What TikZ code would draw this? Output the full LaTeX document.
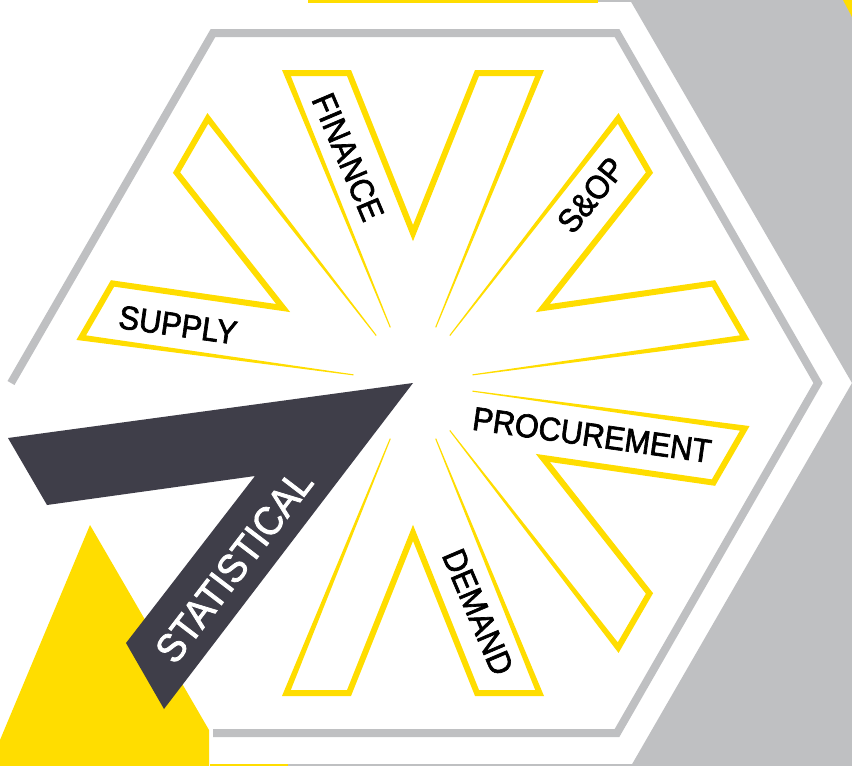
\documentclass[tikz,border=0pt]{standalone}
\usepackage{fontspec}
\newfontfamily\armfont[FakeStretch=0.93, FakeBold=2]{Liberation Sans}
\definecolor{hexgray}{HTML}{BFC0C2}
\definecolor{sunyellow}{HTML}{FFDD00}
\definecolor{slate}{HTML}{3F3E49}

\begin{document}
\begin{tikzpicture}[x=1pt,y=-1pt,
  armtext/.style={font=\armfont\fontsize{33}{33}\selectfont, text=black, inner sep=0pt},
  bandtext/.style={font=\armfont\fontsize{40}{40}\selectfont, text=white, inner sep=0pt},
  vshape/.style={fill=sunyellow, even odd rule}]
\useasboundingbox (0,0) rectangle (852,766);
\fill[white] (0,0) rectangle (852,766);

% grey field behind the right-hand side
\fill[hexgray] (630,0) -- (852,0) -- (852,766) -- (631,766) -- (852,383) -- cycle;
\fill[sunyellow] (843,0) -- (852,0) -- (852,17) -- cycle;

% edges of the neighbouring tiles
\fill[sunyellow] (308,0) rectangle (598,2.5);
\fill[hexgray] (598,0) rectangle (632,2);
\fill[sunyellow] (210,764) rectangle (288,766);
\fill[hexgray] (288,764) rectangle (632,766);

% open hexagon outline
\draw[hexgray, line width=8, line join=miter]
  (11,383) -- (213,33) -- (617,33) -- (818,383) -- (617,733) -- (213,733);

% five outlined V arms around the centre
\foreach \a in {0,-60,-120,180,60} {
  \begin{scope}[shift={(413,383)}, rotate=\a]
    \fill[vshape]
      (0,0) -- (-131,-313) -- (-62,-313) -- (0,-158) -- (62,-313) -- (131,-313) -- cycle
      (0,0) -- (-122.2,-307) -- (-66,-307) -- (0,-141.8) -- (66,-307) -- (122.2,-307) -- cycle;
  \end{scope}
}
% the tapered arm edges fade out before the centre
\fill[white] (413,383) circle[radius=60];

% yellow corner triangle
\fill[sunyellow] (90,525) -- (209,730) -- (209,766) -- (0,766) -- (0,740) -- cycle;

% dark band
\fill[slate] (8,438) -- (413,383) -- (164,709) -- (126,643) -- (255,476) -- (47,505) -- cycle;

% labels
\node[armtext, rotate=-67] (finance) at (348,157) {FINANCE};
\node[armtext, rotate=51] (sop) at (591,195) {S\&OP};
\node[armtext, rotate=-8] (procurement) at (592,435) {PROCUREMENT};
\node[armtext, rotate=-67] (demand) at (478,612) {DEMAND};
\node[armtext, rotate=-8] (supply) at (178,325) {SUPPLY};
\node[bandtext, rotate=52.6] (statistical) at (234,566) {STATISTICAL};
\end{tikzpicture}
\end{document}
